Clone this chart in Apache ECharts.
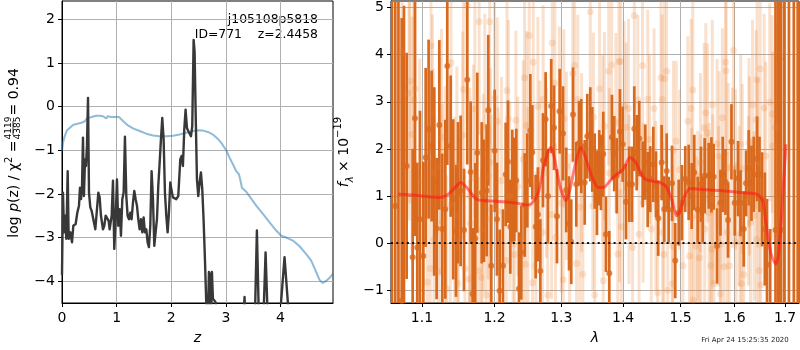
<!DOCTYPE html>
<html>
<head>
<meta charset="utf-8">
<script src="https://cdn.jsdelivr.net/npm/echarts@6/dist/echarts.min.js"></script>
<style>
  html, body { margin: 0; padding: 0; background: #fff; }
  #chart { width: 800px; height: 350px; }
</style>
</head>
<body>
<div id="chart"></div>
<script>
// ---- redshift panel: log p(z) (dark) and scaled chi^2 (blue) ----
const pdfZ = [
  0, 0.018, 0.037, 0.061, 0.079, 0.104, 0.122, 0.152, 0.183, 0.207,
  0.25, 0.28, 0.311, 0.329, 0.348, 0.366, 0.384, 0.402, 0.421, 0.439,
  0.457, 0.476, 0.494, 0.518, 0.543, 0.579, 0.61, 0.64, 0.665, 0.689,
  0.713, 0.75, 0.774, 0.799, 0.823, 0.854, 0.872, 0.909, 0.933, 0.957,
  0.982, 1.006, 1.03, 1.055, 1.079, 1.104, 1.128, 1.152, 1.177, 1.201,
  1.226, 1.25, 1.274, 1.299, 1.323, 1.348, 1.372, 1.396, 1.421, 1.445,
  1.47, 1.494, 1.518, 1.543, 1.567, 1.591, 1.616, 1.64, 1.665, 1.689,
  1.713, 1.738, 1.762, 1.787, 1.811, 1.835, 1.86, 1.884, 1.909, 1.933,
  1.957, 1.982, 2.006, 2.03, 2.055, 2.091, 2.128, 2.165, 2.189, 2.213,
  2.238, 2.262, 2.287, 2.311, 2.335, 2.36, 2.384, 2.409, 2.427, 2.445,
  2.47, 2.494, 2.518, 2.543, 2.567, 2.591, 2.616, 2.64, 2.665, 2.689,
  2.713, 2.726, 2.744, 2.762, 2.787, 2.811, 2.835, 3.31, 3.341, 3.366,
  3.524, 3.567, 3.61, 3.677, 3.726, 3.774, 3.97, 4.012, 4.073, 4.134,
  4.165, 4.96
];
const pdfLogP = [
  -3.86, -1.97, -2.88, -2.50, -3.03, -1.48, -3.03, -2.88, -3.11, -2.73,
  -2.69, -2.43, -2.27, -1.86, -2.12, -1.86, -0.71, -2.05, -1.21, -1.36,
  -0.90, 0.20, -1.97, -2.31, -2.39, -2.39, -2.81, -2.77, -1.97, -2.08,
  -2.50, -2.81, -2.73, -2.50, -2.50, -2.62, -2.81, -2.50, -1.70, -3.26,
  -2.58, -1.67, -2.73, -2.35, -2.96, -2.12, -1.97, -0.69, -2.05, -2.50,
  -2.58, -2.43, -2.58, -2.20, -1.93, -2.12, -2.27, -2.58, -2.81, -2.58,
  -2.88, -2.54, -2.88, -2.81, -3.11, -3.22, -2.73, -1.48, -2.12, -3.19,
  -2.88, -2.58, -1.82, -1.29, -0.75, -0.26, -0.75, -1.97, -2.50, -2.88,
  -2.43, -1.74, -1.93, -2.08, -2.12, -2.12, -2.05, -1.21, -1.13, -1.36,
  -0.52, -0.07, -0.49, -0.56, -0.52, -0.68, -0.45, 1.53, 1.26, -0.07,
  -1.67, -2.05, -1.74, -1.51, -1.89, -2.58, -3.49, -4.48, -5.2, -3.79,
  -3.87, -5.2, -3.79, -4.40, -4.44, -4.48, -5.2, -5.2, -4.36, -5.2,
  -5.2, -2.84, -5.2, -5.2, -3.34, -5.2, -5.2, -4.44, -3.45, -4.49,
  -5.2, -5.2
];
const chiZ = [
  0, 0.018, 0.049, 0.091, 0.14, 0.201, 0.262, 0.354, 0.415, 0.457,
  0.537, 0.628, 0.689, 0.75, 0.78, 0.811, 0.841, 0.902, 0.994, 1.043,
  1.116, 1.207, 1.299, 1.421, 1.543, 1.665, 1.787, 1.909, 2.03, 2.152,
  2.274, 2.396, 2.488, 2.579, 2.671, 2.762, 2.854, 2.915, 3.006, 3.067,
  3.128, 3.189, 3.238, 3.262, 3.293, 3.372, 3.463, 3.555, 3.677, 3.799,
  3.921, 4.012, 4.104, 4.226, 4.348, 4.47, 4.561, 4.652, 4.713, 4.774,
  4.848, 4.909, 4.957
];
const chiScaled = [
  -1.02, -0.83, -0.68, -0.54, -0.49, -0.42, -0.40, -0.37, -0.34, -0.27,
  -0.24, -0.21, -0.21, -0.22, -0.20, -0.27, -0.22, -0.24, -0.24, -0.24,
  -0.33, -0.43, -0.50, -0.56, -0.62, -0.66, -0.68, -0.68, -0.67, -0.64,
  -0.60, -0.56, -0.54, -0.55, -0.58, -0.64, -0.74, -0.83, -1.00, -1.17,
  -1.32, -1.48, -1.55, -1.67, -1.86, -1.95, -2.11, -2.27, -2.46, -2.65,
  -2.84, -2.96, -3.00, -3.07, -3.20, -3.38, -3.53, -3.79, -3.97, -4.04,
  -3.98, -3.91, -3.83
];
const zTicks = [0, 1, 2, 3, 4];
const pzTicks = [-4, -3, -2, -1, 0, 1, 2];

// ---- spectrum panel: grism fluxes (dark = this grism, light = other) and model ----
const darkWave = [
  1.0610, 1.0653, 1.0694, 1.0736, 1.0765, 1.0800, 1.0878, 1.0908, 1.0938, 1.0974,
  1.1018, 1.1049, 1.1088, 1.1128, 1.1164, 1.1195, 1.1231, 1.1271, 1.1312, 1.1339,
  1.1385, 1.1420, 1.1458, 1.1485, 1.1522, 1.1568, 1.1614, 1.1661, 1.1689, 1.1726,
  1.1754, 1.1817, 1.1849, 1.1887, 1.1910, 1.1953, 1.2002, 1.2035, 1.2074, 1.2122,
  1.2161, 1.2195, 1.2229, 1.2258, 1.2288, 1.2317, 1.2357, 1.2391, 1.2442, 1.2481,
  1.2526, 1.2556, 1.2606, 1.2641, 1.2677, 1.2718, 1.2758, 1.2794, 1.2844, 1.2887,
  1.2933, 1.2975, 1.3027, 1.3077, 1.3121, 1.3156, 1.3184, 1.3236, 1.3279, 1.3315,
  1.3370, 1.3411, 1.3460, 1.3492, 1.3531, 1.3568, 1.3605, 1.3633, 1.3671, 1.3715,
  1.3770, 1.3814, 1.3852, 1.3893, 1.3947, 1.3993, 1.4048, 1.4104, 1.4150, 1.4189,
  1.4230, 1.4274, 1.4332, 1.4377, 1.4419, 1.4463, 1.4516, 1.4563, 1.4602, 1.4662,
  1.4708, 1.4751, 1.4786, 1.4846, 1.4903, 1.4965, 1.5024, 1.5083, 1.5145, 1.5200,
  1.5247, 1.5310, 1.5370, 1.5402, 1.5439, 1.5513, 1.5564, 1.5606, 1.5669, 1.5733,
  1.5776, 1.5828, 1.5877, 1.5942, 1.6005, 1.6069, 1.6116, 1.6179, 1.6224, 1.6276,
  1.6330, 1.6374, 1.6440, 1.6487, 1.6538, 1.6593, 1.6637, 1.6700, 1.6807, 1.6860,
  1.6888, 1.6920, 1.6985, 1.7080, 1.7180, 1.7260
];
const darkFlux = [
  6.0, 0.79, 6.0, -1.22, 1.64, 1.64, -0.30, 2.65, -0.09, 0.51,
  -0.27, 1.82, 2.42, 2.06, 1.31, 0.31, 2.51, 0.30, 0.72, 3.76,
  2.06, 0.93, 0.26, 1.07, 1.11, 0.28, 3.47, 1.51, -1.08, 0.10,
  1.92, 1.07, 0.90, 1.12, 2.82, -0.48, 1.96, 0.51, -1.01, -0.48,
  1.46, 1.73, 0.35, 1.21, 1.14, 1.33, -0.97, -0.20, 0.81, 1.33,
  2.39, 1.93, 0.35, 0.61, -0.59, 1.76, 2.63, 1.00, 2.91, 2.45,
  0.57, 2.80, 2.33, 1.13, 0.42, 0.03, 2.73, 1.25, 2.12, 2.06,
  1.29, 2.27, 2.31, 1.99, 1.53, 1.07, 1.60, 1.50, 1.89, 0.19,
  -0.64, 2.25, 1.90, 1.43, 2.37, 2.10, 0.88, 1.25, 1.25, 2.43,
  1.92, 2.22, 1.46, 1.72, 1.14, 1.36, 1.67, 1.25, 0.53, 1.71,
  0.72, 1.53, 0.71, 1.27, -0.37, 0.65, 0.86, 1.36, 1.29, 1.00,
  1.50, 0.71, 1.25, 0.71, 1.43, 1.43, 1.45, 1.41, -0.06, 0.86,
  1.46, 1.30, 0.49, 2.15, 0.86, 1.37, 0.85, 0.30, 1.27, 1.60,
  1.27, 1.46, 1.79, 1.46, 0.93, 0.30, -0.46, -1.60, 0.28, 6.0,
  3.91, 0.28, 6.0, 6.0, 6.0, 6.0
];
const darkErr = [
  9, 5, 9, 6, 3.4, 2.4, 2.3, 2.5, 1.8, 2.3,
  2.0, 1.9, 1.9, 1.6, 2.0, 1.5, 1.8, 1.6, 1.9, 2.1,
  1.5, 1.7, 1.4, 1.5, 1.6, 1.3, 1.8, 1.5, 1.4, 1.6,
  1.7, 1.5, 1.3, 1.4, 1.6, 1.3, 1.3, 1.2, 1.3, 1.2,
  1.1, 1.3, 1.0, 1.2, 1.1, 1.1, 1.2, 1.0, 1.1, 1.0,
  1.2, 1.0, 1.1, 1.0, 1.1, 1.0, 1.0, 1.0, 1.0, 0.9,
  1.0, 0.9, 1.0, 0.9, 1.0, 0.9, 1.0, 0.9, 0.9, 1.0,
  0.9, 0.9, 1.0, 0.9, 0.8, 0.9, 0.8, 0.8, 0.9, 0.8,
  0.9, 0.9, 0.8, 0.8, 0.9, 0.8, 0.8, 0.8, 0.8, 0.9,
  0.8, 0.8, 0.7, 0.8, 0.8, 0.7, 0.8, 0.7, 0.8, 0.8,
  0.7, 0.8, 0.7, 0.8, 0.8, 0.7, 0.8, 0.7, 0.8, 0.7,
  0.8, 0.7, 0.8, 0.7, 0.8, 0.7, 0.8, 0.7, 0.8, 0.7,
  0.8, 0.7, 0.8, 0.8, 0.7, 0.8, 0.7, 0.8, 0.7, 0.8,
  0.8, 0.8, 0.9, 0.8, 1.0, 1.2, 1.4, 1.9, 6, 9,
  7, 6, 9, 9, 9, 9
];
const lightWave = [
  1.178, 1.193, 1.161, 1.112, 1.074, 1.091, 1.083, 1.139, 1.156, 1.172,
  1.114, 1.087, 1.126, 1.155, 1.186, 1.194, 1.097, 1.115, 1.124, 1.147,
  1.170, 1.191, 1.195, 1.165, 1.184, 1.131, 1.138, 1.127, 1.144, 1.166,
  1.193, 1.182, 1.149, 1.116, 1.111, 1.122, 1.158, 1.177, 1.107, 1.148,
  1.164, 1.181, 1.188, 1.133, 1.084, 1.089,
  1.251, 1.346, 1.286, 1.257, 1.244, 1.321, 1.318, 1.218, 1.290, 1.200,
  1.264, 1.272, 1.326, 1.220, 1.231, 1.204, 1.297, 1.304, 1.247, 1.351,
  1.242, 1.267, 1.277, 1.308, 1.332, 1.210, 1.222, 1.234, 1.249, 1.285,
  1.300, 1.329, 1.350, 1.205, 1.227, 1.241, 1.271, 1.291, 1.313, 1.229,
  1.217, 1.245, 1.261, 1.324, 1.256, 1.303, 1.334, 1.279, 1.353,
  1.419, 1.393, 1.396, 1.376, 1.381, 1.433, 1.465, 1.471, 1.475, 1.361,
  1.522, 1.402, 1.409, 1.425, 1.442, 1.453, 1.467, 1.519, 1.513, 1.388,
  1.369, 1.405, 1.492, 1.445, 1.487, 1.366, 1.377, 1.498, 1.394, 1.410,
  1.434, 1.456, 1.520, 1.531, 1.397, 1.448, 1.427, 1.468, 1.416, 1.486,
  1.528, 1.391, 1.470, 1.516, 1.504, 1.534, 1.367, 1.485, 1.459, 1.477,
  1.523,
  1.598, 1.583, 1.584, 1.650, 1.644, 1.558, 1.546, 1.669, 1.658, 1.635,
  1.674, 1.577, 1.543, 1.549, 1.681, 1.642, 1.567, 1.612, 1.628, 1.596,
  1.675, 1.571, 1.536, 1.588, 1.602, 1.615, 1.629, 1.645, 1.661, 1.559,
  1.570, 1.627, 1.552, 1.537, 1.609, 1.638, 1.544, 1.631, 1.586, 1.611,
  1.574, 1.557, 1.603, 1.643, 1.555, 1.580, 1.590, 1.618, 1.648, 1.561,
  1.573, 1.614, 1.651
];
const lightFlux = [
  4.70, 4.70, 5.05, 4.19, 4.04, 3.28, 3.18, 3.83, 3.26, 2.85,
  2.75, 2.31, 2.25, 2.29, 2.47, 1.71, 1.32, 1.50, 1.64, 1.65,
  1.39, 1.43, 0.72, 1.00, 1.07, 0.93, 0.81, 0.45, 0.58, 0.43,
  0.51, 0.29, -0.09, 0.08, -0.54, -0.61, -0.54, -0.59, -0.83, -0.85,
  -0.76, -0.73, -1.10, -0.96, 3.44, 3.05,
  4.41, 4.91, 4.25, 3.84, 3.51, 3.77, 3.60, 3.24, 3.40, 3.07,
  2.90, 3.05, 3.05, 2.64, 2.61, 2.59, 2.80, 2.64, 2.50, 2.67,
  1.78, 1.55, 1.49, 1.64, 1.71, 1.33, 1.00, 1.21, 0.79, 0.61,
  0.85, 0.76, 0.79, 0.68, -0.02, 0.10, 0.23, 0.12, 0.00, -0.24,
  -0.37, -0.45, -0.48, -0.43, -0.84, -0.77, -0.66, -1.10, -1.10,
  4.83, 3.85, 3.86, 3.65, 3.78, 3.77, 3.51, 3.49, 3.65, 3.28,
  3.25, 2.91, 2.86, 3.04, 3.06, 2.86, 3.05, 2.86, 2.59, 2.56,
  2.48, 2.46, 2.17, 2.20, 1.97, 1.99, 1.49, 1.56, 1.07, 0.93,
  0.86, 0.79, 0.54, 0.58, 0.35, 0.30, 0.19, 0.23, -0.09, -0.06,
  -0.06, -0.23, -0.24, -0.27, -0.48, -0.31, -0.80, -0.86, -1.05, -1.00,
  -1.21,
  4.09, 3.84, 3.66, 3.70, 3.47, 2.94, 2.77, 2.99, 2.87, 2.94,
  2.74, 2.66, 2.45, 2.34, 2.45, 2.62, 2.11, 2.10, 2.13, 1.60,
  2.06, 1.85, 1.71, 1.60, 1.57, 1.58, 1.64, 1.71, 1.85, 0.93,
  0.79, 0.90, 0.65, 0.51, 0.79, 0.58, 0.30, 0.44, 0.23, 0.19,
  -0.02, -0.13, 0.02, 0.08, -0.48, -0.50, -0.48, -0.67, -0.58, -0.86,
  -1.08, -0.86, -0.89
];
const lightErr = [
  2.4, 2.6, 2.5, 2.3, 2.8, 2.6, 2.7, 2.2, 2.4, 2.3,
  2.1, 2.5, 2.3, 2.2, 2.4, 2.0, 2.6, 2.2, 2.3, 2.1,
  2.4, 2.2, 2.0, 2.3, 2.1, 2.4, 2.2, 2.5, 2.1, 2.3,
  2.0, 2.2, 2.4, 2.6, 2.3, 2.2, 2.1, 2.0, 2.5, 2.2,
  2.1, 2.3, 2.0, 2.4, 2.6, 2.7,
  2.2, 2.0, 2.1, 1.9, 2.2, 2.0, 1.9, 2.1, 1.8, 2.2,
  1.9, 2.0, 1.8, 2.1, 1.9, 2.2, 1.8, 1.9, 2.0, 1.8,
  2.1, 1.9, 1.8, 2.0, 1.9, 2.2, 2.0, 1.9, 2.1, 1.8,
  1.9, 2.0, 1.8, 2.2, 2.0, 1.9, 1.8, 2.0, 1.9, 2.1,
  2.2, 1.9, 2.0, 1.8, 2.1, 1.9, 2.0, 2.0, 1.9,
  2.0, 1.9, 1.8, 2.0, 1.9, 1.8, 1.9, 1.8, 2.0, 2.1,
  1.9, 1.8, 1.9, 1.8, 1.9, 1.7, 1.8, 1.9, 1.8, 1.9,
  2.0, 1.8, 1.7, 1.8, 1.9, 2.0, 1.8, 1.7, 1.9, 1.8,
  1.7, 1.8, 1.9, 1.8, 1.9, 1.7, 1.8, 1.9, 1.8, 1.7,
  1.9, 1.8, 1.7, 1.8, 1.9, 1.8, 2.0, 1.8, 1.9, 1.8,
  2.0,
  2.0, 1.9, 1.8, 2.0, 1.9, 1.8, 1.9, 2.1, 2.0, 1.8,
  2.1, 1.9, 1.8, 1.9, 2.2, 1.9, 1.8, 1.9, 1.8, 1.7,
  2.0, 1.8, 1.9, 1.8, 1.7, 1.8, 1.9, 1.8, 2.0, 1.8,
  1.7, 1.8, 1.9, 1.8, 1.7, 1.8, 1.9, 1.8, 1.7, 1.8,
  1.9, 1.8, 1.7, 1.9, 1.8, 1.9, 1.8, 1.7, 1.9, 1.8,
  2.0, 1.8, 1.9
];
const modelWave = [
  1.0692, 1.0886, 1.1106, 1.1240, 1.1352, 1.1444, 1.1522, 1.1606, 1.1746, 1.1887,
  1.2126, 1.2323, 1.2471, 1.2546, 1.2646, 1.2722, 1.2799, 1.2840, 1.2886, 1.2979,
  1.3073, 1.3136, 1.3215, 1.3305, 1.3374, 1.3482, 1.3589, 1.3671, 1.3781, 1.3892,
  1.4003, 1.4116, 1.4201, 1.4286, 1.4372, 1.4488, 1.4633, 1.4751, 1.4839, 1.4929,
  1.4988, 1.5060, 1.5169, 1.5413, 1.5787, 1.6170, 1.6432, 1.6551, 1.6597, 1.6662,
  1.6730, 1.6811, 1.6863, 1.6912, 1.6965, 1.7020
];
const modelFlux = [
  1.04, 1.02, 0.98, 0.97, 1.04, 1.18, 1.29, 1.18, 0.93, 0.90,
  0.88, 0.85, 0.81, 0.84, 1.07, 1.57, 1.96, 2.03, 1.85, 1.21,
  0.90, 1.14, 1.64, 2.03, 1.85, 1.43, 1.18, 1.18, 1.32, 1.46,
  1.57, 1.82, 1.74, 1.53, 1.36, 1.32, 1.29, 1.18, 0.93, 0.58,
  0.68, 0.97, 1.16, 1.14, 1.11, 1.07, 1.04, 0.90, 0.58, 0.08,
  -0.27, -0.44, -0.27, 0.30, 1.21, 2.10
];
const waveTicks = [1.1, 1.2, 1.3, 1.4, 1.5, 1.6, 1.7];
const fluxTicks = [-1, 0, 1, 2, 3, 4, 5];
const waveRange = [1.0599, 1.7287];

const FONT = 'DejaVu Sans';
const minus = v => String(v).replace('-', '\u2212');
const lnWave = Math.log;   // the wavelength axis is logarithmic

const pairs = (xs, ys) => xs.map((x, i) => [x, ys[i]]);
const specPoints = (ws, fs) => ws.map((w, i) => [lnWave(w), fs[i]]);
const specBars = (ws, fs, es) => ws.map((w, i) => [lnWave(w), fs[i] - es[i], fs[i] + es[i]]);

function errorBars(color, width) {
  return function (params, api) {
    const a = api.coord([api.value(0), api.value(1)]);
    const b = api.coord([api.value(0), api.value(2)]);
    return {
      type: 'line',
      shape: { x1: a[0], y1: a[1], x2: b[0], y2: b[1] },
      style: { stroke: color, lineWidth: width }
    };
  };
}

const axisCommon = {
  axisLine: { show: true, onZero: false, lineStyle: { color: '#000', width: 1 } },
  axisTick: { show: true, inside: false, length: 4, lineStyle: { color: '#000' } },
  splitLine: { show: true, lineStyle: { color: '#b0b0b0', width: 1 } }
};
const labelCommon = { color: '#000', fontSize: 14, fontFamily: FONT };

const chart = echarts.init(document.getElementById('chart'), null, { renderer: 'canvas' });

chart.setOption({
  animation: false,
  backgroundColor: '#fff',
  textStyle: { fontFamily: FONT },
  grid: [
    { left: 62, top: 1, width: 271, height: 303, show: true, borderColor: '#000', borderWidth: 1, backgroundColor: 'transparent' },
    { left: 391, top: 1, width: 408, height: 303, show: true, borderColor: '#000', borderWidth: 1, backgroundColor: 'transparent' }
  ],
  xAxis: [
    Object.assign({}, axisCommon, {
      gridIndex: 0, type: 'value', min: 0, max: 4.96,
      axisTick: Object.assign({}, axisCommon.axisTick, { customValues: zTicks }),
      axisLabel: Object.assign({}, labelCommon, { margin: 8, customValues: zTicks, formatter: minus }),
      name: 'z', nameLocation: 'middle', nameGap: 28,
      nameTextStyle: { fontStyle: 'italic', fontSize: 14, color: '#000', fontFamily: FONT }
    }),
    Object.assign({}, axisCommon, {
      gridIndex: 1, type: 'value', min: lnWave(waveRange[0]), max: lnWave(waveRange[1]),
      axisTick: Object.assign({}, axisCommon.axisTick, { customValues: waveTicks.map(lnWave) }),
      axisLabel: Object.assign({}, labelCommon, {
        margin: 8, customValues: waveTicks.map(lnWave),
        formatter: v => Math.exp(v).toFixed(1)
      }),
      name: 'λ', nameLocation: 'middle', nameGap: 28,
      nameTextStyle: { fontStyle: 'italic', fontSize: 14, color: '#000', fontFamily: FONT }
    })
  ],
  yAxis: [
    Object.assign({}, axisCommon, {
      gridIndex: 0, type: 'value', min: -4.5, max: 2.42,
      axisTick: Object.assign({}, axisCommon.axisTick, { customValues: pzTicks }),
      axisLabel: Object.assign({}, labelCommon, { margin: 7, customValues: pzTicks, formatter: minus })
    }),
    Object.assign({}, axisCommon, {
      gridIndex: 1, type: 'value', min: -1.27, max: 5.14,
      axisTick: Object.assign({}, axisCommon.axisTick, { customValues: fluxTicks }),
      axisLabel: Object.assign({}, labelCommon, { margin: 7, customValues: fluxTicks, formatter: minus })
    })
  ],
  series: [
    {
      name: 'chi2', type: 'line', xAxisIndex: 0, yAxisIndex: 0,
      data: pairs(chiZ, chiScaled), showSymbol: false, clip: true,
      lineStyle: { color: 'rgba(31,119,180,0.5)', width: 2 }
    },
    {
      name: 'pdf', type: 'line', xAxisIndex: 0, yAxisIndex: 0,
      data: pairs(pdfZ, pdfLogP), showSymbol: false, clip: true,
      lineStyle: { color: '#383838', width: 2.4, join: 'round' }
    },
    {
      name: 'otherErr', type: 'custom', xAxisIndex: 1, yAxisIndex: 1, clip: true,
      renderItem: errorBars('rgba(236,128,50,0.24)', 3),
      encode: { x: 0, y: [1, 2] },
      data: specBars(lightWave, lightFlux, lightErr)
    },
    {
      name: 'other', type: 'scatter', xAxisIndex: 1, yAxisIndex: 1, clip: true,
      symbol: 'circle', symbolSize: 7,
      itemStyle: { color: 'rgba(236,128,50,0.25)' },
      data: specPoints(lightWave, lightFlux)
    },
    {
      name: 'thisErr', type: 'custom', xAxisIndex: 1, yAxisIndex: 1, clip: true,
      renderItem: errorBars('#d9691d', 2.7),
      encode: { x: 0, y: [1, 2] },
      data: specBars(darkWave, darkFlux, darkErr)
    },
    {
      name: 'this', type: 'scatter', xAxisIndex: 1, yAxisIndex: 1, clip: true,
      symbol: 'circle', symbolSize: 6,
      itemStyle: { color: '#d9691d' },
      data: specPoints(darkWave, darkFlux)
    },
    {
      name: 'model', type: 'line', xAxisIndex: 1, yAxisIndex: 1, clip: true,
      data: specPoints(modelWave, modelFlux), showSymbol: false, smooth: 0.25,
      lineStyle: { color: 'rgba(255,20,20,0.55)', width: 3 },
      markLine: {
        silent: true, symbol: 'none', label: { show: false },
        lineStyle: { color: '#111', type: [2, 3.3], width: 2 },
        data: [{ yAxis: 0 }]
      }
    }
  ],
  graphic: [
    {
      type: 'text', x: 318, y: 20,
      style: { text: 'j105108p5818', font: '12.4px "DejaVu Sans"', fill: '#000', align: 'right', textAlign: 'right', verticalAlign: 'middle', textVerticalAlign: 'middle' }
    },
    {
      type: 'text', x: 318, y: 35,
      style: { text: 'ID=771    z=2.4458', font: '12.4px "DejaVu Sans"', fill: '#000', align: 'right', textAlign: 'right', verticalAlign: 'middle', textVerticalAlign: 'middle' }
    },
    {
      type: 'group', x: 14, y: 155, rotation: Math.PI / 2,
      children: [
        {
          type: 'text', x: 19, y: 0,
          style: {
            text: '{n|log }{i|p}{n|(z) / }{n|χ}{sup|2}{n| = }',
            align: 'right', textAlign: 'right', verticalAlign: 'middle', textVerticalAlign: 'middle',
            rich: {
              n: { fontSize: 14, fontFamily: FONT, fill: '#000', lineHeight: 20 },
              i: { fontSize: 14, fontFamily: FONT, fontStyle: 'italic', fill: '#000', lineHeight: 20 },
              sup: { fontSize: 10, fontFamily: FONT, fill: '#000', verticalAlign: 'top', lineHeight: 20 }
            }
          }
        },
        {
          type: 'text', x: 27, y: -5.5,
          style: { text: '4119', font: '9px "DejaVu Sans"', fill: '#000', align: 'center', textAlign: 'center', verticalAlign: 'middle', textVerticalAlign: 'middle' }
        },
        {
          type: 'line', shape: { x1: 20, y1: -1, x2: 34, y2: -1 },
          style: { stroke: '#000', lineWidth: 0.8 }
        },
        {
          type: 'text', x: 27, y: 3.5,
          style: { text: '4385', font: '9px "DejaVu Sans"', fill: '#000', align: 'center', textAlign: 'center', verticalAlign: 'middle', textVerticalAlign: 'middle' }
        },
        {
          type: 'text', x: 35, y: 0,
          style: { text: ' = 0.94', font: '14px "DejaVu Sans"', fill: '#000', align: 'left', textAlign: 'left', verticalAlign: 'middle', textVerticalAlign: 'middle' }
        }
      ]
    },
    {
      type: 'group', x: 344, y: 152, rotation: Math.PI / 2,
      children: [
        {
          type: 'text', x: 0, y: 0,
          style: {
            text: '{i|f}{sub|λ}{n| × 10}{sup|−19}',
            align: 'center', textAlign: 'center', verticalAlign: 'middle', textVerticalAlign: 'middle',
            rich: {
              n: { fontSize: 14, fontFamily: FONT, fill: '#000', lineHeight: 22 },
              i: { fontSize: 14, fontFamily: FONT, fontStyle: 'italic', fill: '#000', lineHeight: 22 },
              sub: { fontSize: 10, fontFamily: FONT, fontStyle: 'italic', fill: '#000', verticalAlign: 'bottom', lineHeight: 22 },
              sup: { fontSize: 10, fontFamily: FONT, fill: '#000', verticalAlign: 'top', lineHeight: 22 }
            }
          }
        }
      ]
    },
    {
      type: 'text', x: 745, y: 340,
      style: { text: 'Fri Apr 24 15:25:35 2020', font: '7px "DejaVu Sans"', fill: '#222', align: 'center', textAlign: 'center', verticalAlign: 'middle', textVerticalAlign: 'middle' }
    }
  ]
});
</script>
</body>
</html>
